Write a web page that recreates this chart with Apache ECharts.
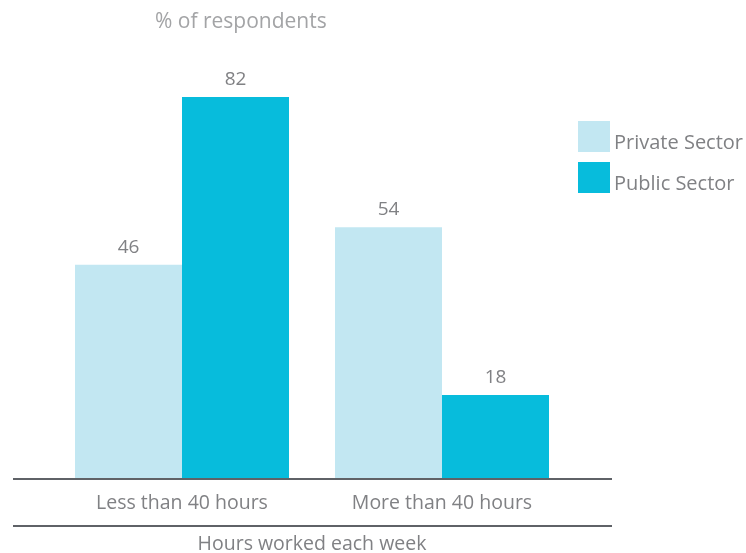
<!DOCTYPE html>
<html><head><meta charset="utf-8">
<script src="https://cdn.jsdelivr.net/npm/echarts@6/dist/echarts.min.js"></script>
<style>html,body{margin:0;padding:0;background:#fff}#c{width:746px;height:553px}</style>
</head><body><div id="c"></div>
<script>
const categories = ['Less than 40 hours', 'More than 40 hours'];
const seriesNames = ['Private Sector', 'Public Sector'];
const privateValues = [46, 54];
const publicValues = [82, 18];

const chart = echarts.init(document.getElementById('c'));
const font = '"Open Sans", Lato, sans-serif';
const grey = '#808184';
chart.setOption({
  animation: false,
  textStyle: { fontFamily: font },
  title: {
    text: '% of respondents', left: 150, top: 7,
    textStyle: { fontFamily: font, fontSize: 21, fontWeight: 'normal', color: '#a3a4a6' }
  },
  legend: {
    data: seriesNames, orient: 'vertical', left: 573, top: 116,
    itemWidth: 32, itemHeight: 31, itemGap: 9,
    icon: 'rect',
    formatter: '{a|{name}}',
    textStyle: {
      fontFamily: font, fontSize: 20, color: grey,
      rich: { a: { fontFamily: font, fontSize: 20, color: grey, padding: [13, 0, 0, -1] } }
    }
  },
  grid: { left: 52, right: 174, top: 13, bottom: 74, containLabel: false, outerBoundsMode: 'none' },
  xAxis: {
    type: 'category', data: categories,
    axisLine: { show: false }, axisTick: { show: false },
    axisLabel: { fontFamily: font, fontSize: 19.5, color: grey, margin: 14 },
    name: 'Hours worked each week', nameLocation: 'middle', nameGap: 55,
    nameTextStyle: { fontFamily: font, fontSize: 19.5, color: grey }
  },
  yAxis: { type: 'value', min: 0, max: 100, show: false, splitLine: { show: false } },
  series: [
    { name: seriesNames[0], type: 'bar', data: privateValues, barWidth: 107, barGap: '0%',
      itemStyle: { color: '#c2e7f2' },
      label: { show: true, position: 'top', distance: 8, fontFamily: font, fontSize: 19, color: grey } },
    { name: seriesNames[1], type: 'bar', data: publicValues, barWidth: 107,
      itemStyle: { color: '#07bcdc' },
      label: { show: true, position: 'top', distance: 8, fontFamily: font, fontSize: 19, color: grey } }
  ],
  graphic: [
    { type: 'line', shape: { x1: 13, y1: 479, x2: 612, y2: 479 }, style: { stroke: '#5f6267', lineWidth: 2 }, z: 10 },
    { type: 'line', shape: { x1: 13, y1: 526, x2: 612, y2: 526 }, style: { stroke: '#5f6267', lineWidth: 2 }, z: 10 }
  ]
});
</script></body></html>
